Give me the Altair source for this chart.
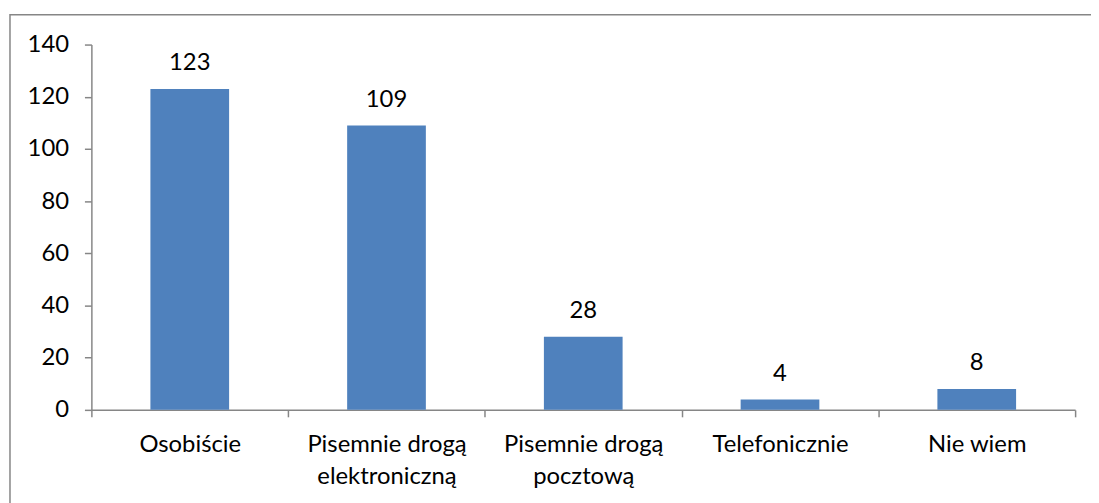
import altair as alt
import pandas as pd

categories = ["Osobiście", "Pisemnie drogą\nelektroniczną", "Pisemnie drogą\npocztową", "Telefonicznie", "Nie wiem"]
values = [123, 109, 28, 4, 8]
y_ticks = [0, 20, 40, 60, 80, 100, 120, 140]

df = pd.DataFrame({"kategoria": categories, "liczba": values})

FONT = "Lato"
FS = 24
AXIS_COLOR = "#868686"
BAR_COLOR = "#4F81BD"

x_enc = alt.X(
    "kategoria:N",
    sort=categories,
    scale=alt.Scale(paddingInner=0, paddingOuter=0),
    axis=alt.Axis(
        title=None,
        labelAngle=0,
        labelExpr="isValid(datum.value) ? split(datum.value, '\\n') : ''",
        labelLineHeight=32,
        labelFont=FONT,
        labelFontSize=FS,
        labelColor="#000000",
        labelPadding=16,
        tickBand="extent",
        tickSize=7,
        tickColor=AXIS_COLOR,
        domainColor=AXIS_COLOR,
        tickWidth=1.5,
        domainWidth=1.5,
        grid=False,
    ),
)

y_enc = alt.Y(
    "liczba:Q",
    scale=alt.Scale(domain=[0, 140], nice=False),
    axis=alt.Axis(
        title=None,
        values=y_ticks,
        labelFont=FONT,
        labelFontSize=FS,
        labelColor="#000000",
        labelPadding=16,
        tickSize=7,
        tickColor=AXIS_COLOR,
        domainColor=AXIS_COLOR,
        tickWidth=1.5,
        domainWidth=1.5,
        grid=False,
    ),
)

bars = alt.Chart(df).mark_bar(
    color=BAR_COLOR, width=alt.RelativeBandSize(0.4)
).encode(x=x_enc, y=y_enc)

labels = alt.Chart(df).mark_text(
    font=FONT, fontSize=FS, color="#000000", baseline="alphabetic", dy=-19
).encode(x=alt.X("kategoria:N", sort=categories), y="liczba:Q", text="liczba:Q")

frame = alt.Chart(alt.Data(values=[{"f": 1}])).mark_rect(
    fillOpacity=0, stroke=AXIS_COLOR, strokeWidth=1.5, clip=False
).encode(
    x=alt.value(-82), x2=alt.value(1030), y=alt.value(-30), y2=alt.value(520)
)

chart = alt.layer(frame, bars, labels).properties(
    width=991, height=368,
    background="white",
    autosize=alt.AutoSizeParams(type="none"),
    padding={"left": 84, "top": 35, "right": 16, "bottom": 92},
).configure_view(strokeWidth=0, stroke="transparent")

chart.save("out.html", embed_options={"renderer": "svg", "actions": False})
